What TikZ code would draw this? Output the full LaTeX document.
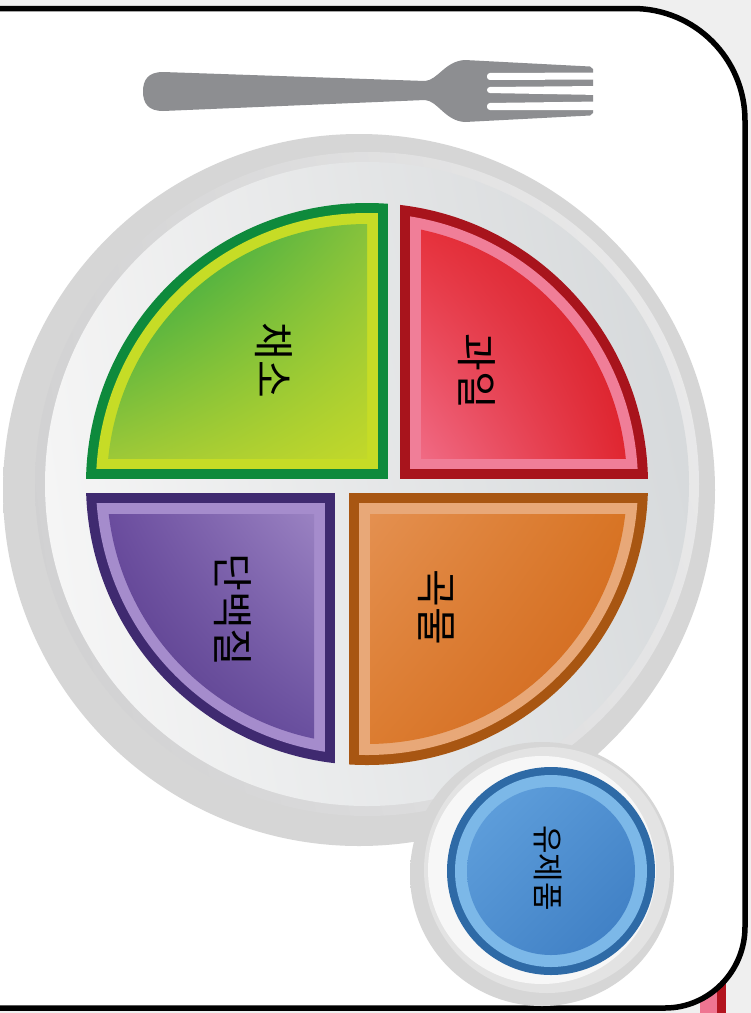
\documentclass[tikz,border=0pt]{standalone}
\usepackage{fontspec}
\usetikzlibrary{shadings}
\newfontfamily\krfont{Noto Sans CJK KR}
\definecolor{bggray}{HTML}{EFEFEF}
\definecolor{forkgray}{HTML}{8D8E91}
\definecolor{tabpink}{HTML}{EF7591}
\definecolor{tabred}{HTML}{B3151F}
% vegetables
\definecolor{vegborder}{HTML}{0E8A3C}
\definecolor{vegband}{HTML}{C6DC26}
\definecolor{vegul}{HTML}{12A048}
\definecolor{vegur}{HTML}{86C23C}
\definecolor{vegll}{HTML}{9CC838}
\definecolor{veglr}{HTML}{C2D82A}
% fruits
\definecolor{fruborder}{HTML}{A8141C}
\definecolor{fruband}{HTML}{F07E98}
\definecolor{fruul}{HTML}{E6303A}
\definecolor{fruur}{HTML}{D41820}
\definecolor{frull}{HTML}{F06A84}
\definecolor{frulr}{HTML}{E02630}
% protein
\definecolor{proborder}{HTML}{3F2A70}
\definecolor{proband}{HTML}{A58CCC}
\definecolor{proul}{HTML}{6A4C9E}
\definecolor{prour}{HTML}{9A82C2}
\definecolor{proll}{HTML}{523686}
\definecolor{prolr}{HTML}{684E9E}
% grains
\definecolor{graborder}{HTML}{A85612}
\definecolor{graband}{HTML}{E8A878}
\definecolor{graul}{HTML}{E49050}
\definecolor{graur}{HTML}{D87424}
\definecolor{grall}{HTML}{DC7C30}
\definecolor{gralr}{HTML}{CF6419}
% dairy
\definecolor{dairyborder}{HTML}{2E6AA6}
\definecolor{dairyband}{HTML}{7CB8E8}
\definecolor{dairyul}{HTML}{62A2DE}
\definecolor{dairymid}{HTML}{4F8FD0}
\definecolor{dairylr}{HTML}{3C7CC2}
% plate greys
\definecolor{rimA}{HTML}{D3D3D4}
\definecolor{rimB}{HTML}{ECECEC}
\definecolor{rimC}{HTML}{D0D0D1}
\definecolor{rimD}{HTML}{E4E4E5}
\definecolor{dishA}{HTML}{F3F3F3}
\definecolor{dishB}{HTML}{D4D7D9}
\definecolor{dishC}{HTML}{F7F7F7}
\definecolor{dishD}{HTML}{DADDDF}

% soft fading shadow under round dishes
\pgfdeclareradialshading{softshadow}{\pgfpoint{0bp}{0bp}}{%
  color(0bp)=(black!16); color(46.5bp)=(black!16); color(47.3bp)=(black!11);
  color(48.3bp)=(black!5); color(50bp)=(white)}

\begin{document}
\begin{tikzpicture}[x=1pt,y=-1pt,
  card/.style={fill=white, draw=black, line width=5.5pt, line join=round},
  foodlabel/.style={font=\krfont\fontsize{41pt}{41pt}\selectfont, rotate=-90,
    inner sep=0pt, text=black},
  dairylabel/.style={foodlabel, font=\krfont\fontsize{31pt}{31pt}\selectfont}]
\useasboundingbox (0,0) rectangle (751,1013);

% surroundings of the card
\fill[bggray] (0,0) rectangle (751,1013);
\fill[tabpink] (700,955) rectangle (717,1013);
\fill[tabred] (717,955) rectangle (726,1013);

% the card
\draw[card] (-20,8.5) -- (633,8.5)
  .. controls (694.9,8.5) and (745,58.6) .. (745,120.5)
  -- (745,927)
  .. controls (745,971.2) and (709.2,1008) .. (665,1008)
  -- (-20,1008);

% fork
\fill[forkgray] (425,81) -- (163,72)
  .. controls (148,72) and (143,80) .. (143,91.5)
  .. controls (143,103) and (148,111) .. (163,111)
  -- (425,100) .. controls (438,101) and (445,121) .. (465,122)
  -- (590,115.5) -- (593,113) -- (593,69) -- (590,66.5)
  -- (465,60) .. controls (445,61) and (438,80) .. (425,81) -- cycle;
\fill[white, rounded corners=3] (487,73) -- (600,72.5) -- (600,79.5) -- (487,80) -- cycle;
\fill[white, rounded corners=3] (487,87) -- (600,86) -- (600,95) -- (487,93) -- cycle;
\fill[white, rounded corners=3] (487,103) -- (600,101.5) -- (600,110) -- (487,110) -- cycle;

% plate
\coordinate (C) at (367,484);
\shade[shading=softshadow] (359,490) circle (356pt);
\shade[upper left=rimA, upper right=rimB, lower left=rimC, lower right=rimD]
  (C) circle (332pt);
\shade[upper left=dishA, upper right=dishB, lower left=dishC, lower right=dishD]
  (C) circle (322pt);

% vegetables (upper left)
\begin{scope}\clip (C) circle (281pt);
  \fill[vegborder] (80,195) rectangle (388,479);\end{scope}
\begin{scope}\clip (C) circle (271pt);
  \fill[vegband] (80,195) rectangle (378,469);\end{scope}
\begin{scope}\clip (C) circle (260pt);
  \shade[upper left=vegul, upper right=vegur, lower left=vegll, lower right=veglr]
    (107,224) rectangle (367,458);\end{scope}

% fruits (upper right)
\begin{scope}\clip (C) circle (281pt);
  \fill[fruborder] (400,195) rectangle (660,479);\end{scope}
\begin{scope}\clip (C) circle (271pt);
  \fill[fruband] (410,195) rectangle (660,469);\end{scope}
\begin{scope}\clip (C) circle (260pt);
  \shade[upper left=fruul, upper right=fruur, lower left=frull, lower right=frulr]
    (421,224) rectangle (627,458);\end{scope}

% protein (lower left)
\begin{scope}\clip (C) circle (281pt);
  \fill[proborder] (80,493) rectangle (335,775);\end{scope}
\begin{scope}\clip (C) circle (271pt);
  \fill[proband] (80,503) rectangle (325,775);\end{scope}
\begin{scope}\clip (C) circle (260pt);
  \shade[upper left=proul, upper right=prour, lower left=proll, lower right=prolr]
    (107,514) rectangle (314,744);\end{scope}

% grains (lower right)
\begin{scope}\clip (C) circle (281pt);
  \fill[graborder] (349,493) rectangle (660,775);\end{scope}
\begin{scope}\clip (C) circle (271pt);
  \fill[graband] (359,503) rectangle (660,775);\end{scope}
\begin{scope}\clip (C) circle (260pt);
  \shade[upper left=graul, upper right=graur, lower left=grall, lower right=gralr]
    (370,514) rectangle (627,744);\end{scope}

% dairy cup
\coordinate (D) at (551,871);
\shade[shading=softshadow] (542,874) circle (132pt);
\fill[black!11] (547,870) circle (123pt);
\fill[black!3] (542,870) circle (114pt);
\fill[dairyborder] (D) circle (104pt);
\fill[dairyband] (D) circle (96pt);
\shade[upper left=dairyul, upper right=dairymid, lower left=dairymid, lower right=dairylr]
  (D) circle (84pt);

% labels
\node[foodlabel] (veg) at (274,360) {채소};
\node[foodlabel] (fruit) at (477,371) {과일};
\node[foodlabel] (protein) at (233,610) {단백질};
\node[foodlabel] (grain) at (436,607) {곡물};
\node[dairylabel] (dairy) at (548,868) {유제품};
\end{tikzpicture}
\end{document}
